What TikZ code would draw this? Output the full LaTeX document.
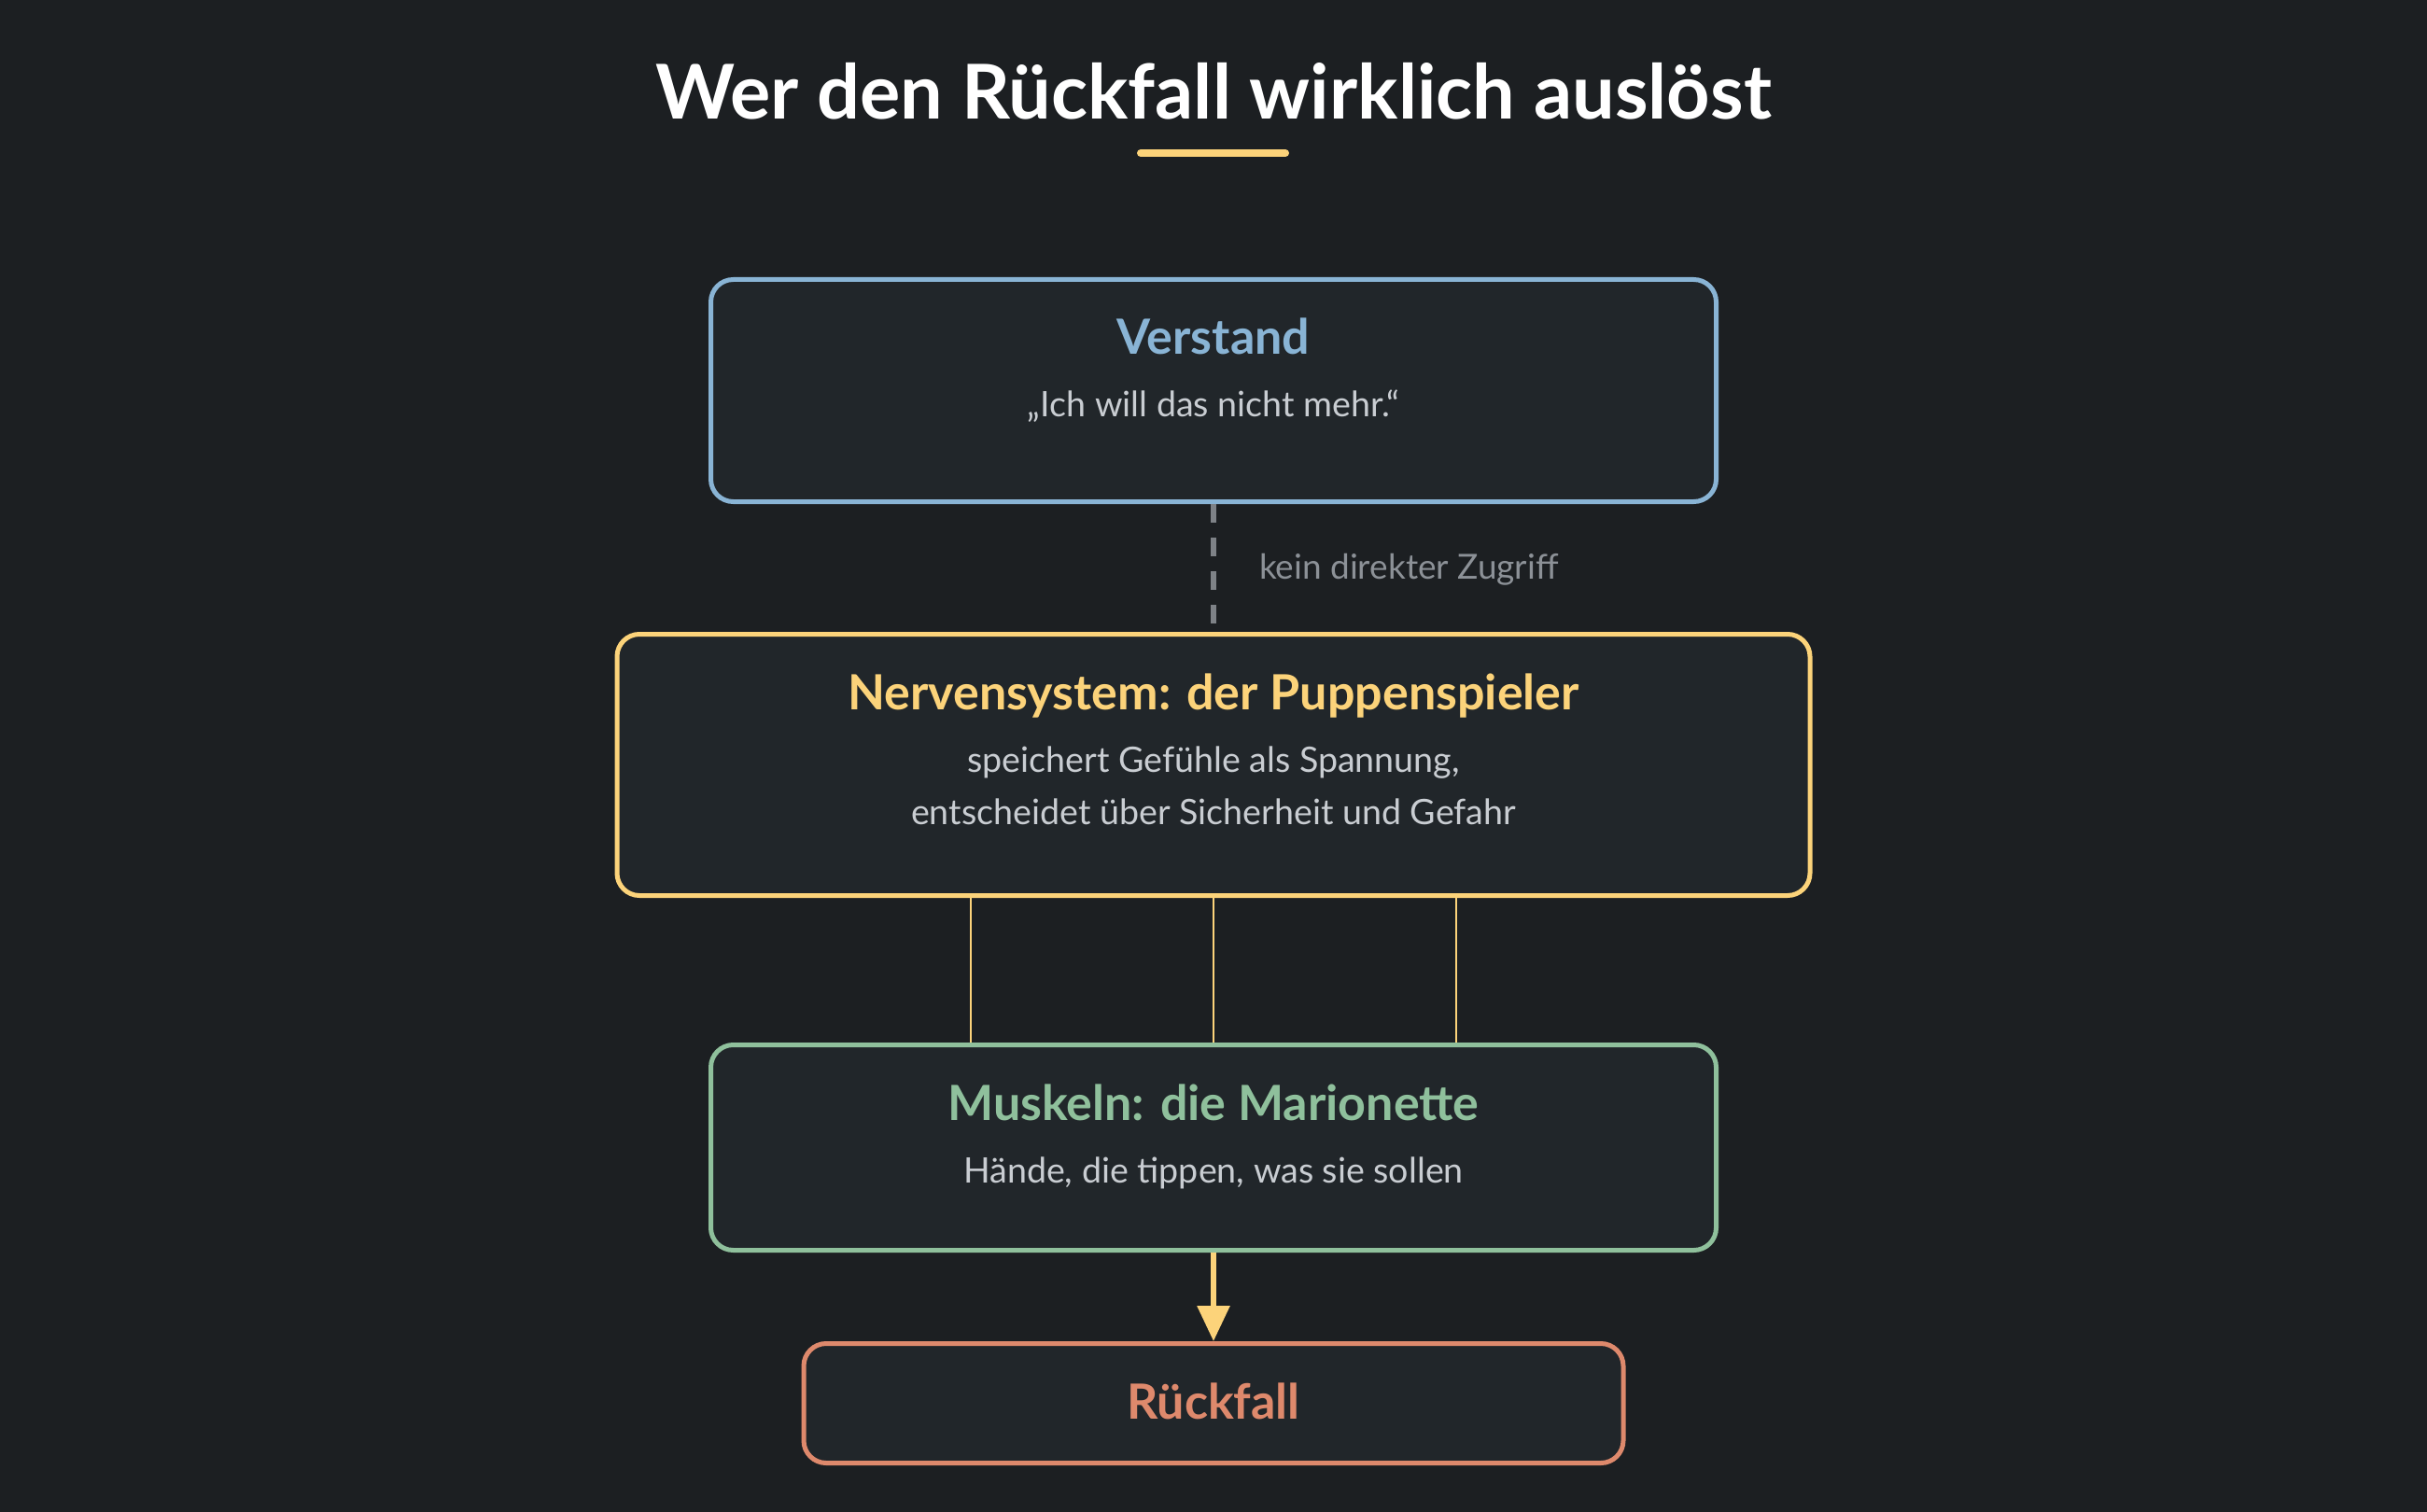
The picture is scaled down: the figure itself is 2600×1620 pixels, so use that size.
\documentclass[tikz,border=0pt]{standalone}
\usepackage{fontspec}
\setmainfont{Lato}
\usetikzlibrary{arrows.meta}

\definecolor{bgdark}{HTML}{1C1F22}
\definecolor{boxfill}{HTML}{21262A}
\definecolor{blueline}{HTML}{89B4D5}
\definecolor{yellowline}{HTML}{FCD37A}
\definecolor{greenline}{HTML}{8FC09C}
\definecolor{salmonline}{HTML}{DE896C}
\definecolor{subgray}{HTML}{C9CDD2}
\definecolor{dashgray}{HTML}{7E8287}
\definecolor{labelgray}{HTML}{8C9197}

\begin{document}
\begin{tikzpicture}[x=0.5pt,y=-0.5pt,
    card/.style={draw=#1,fill=boxfill,line width=2.5pt,rounded corners=12pt,inner sep=0pt},
    head/.style={anchor=base,text=#1,font=\bfseries\fontsize{26}{31}\selectfont},
    sub/.style={anchor=base,text=subgray,font=\fontsize{18.8}{22}\selectfont}]
      \fill[bgdark] (0,0) rectangle (2600,1620);
      \useasboundingbox (0,0) rectangle (2600,1620);

      % title
      \node[anchor=base,text=white,font=\bfseries\fontsize{40.5}{46}\selectfont] (title) at (1300,128) {Wer den Rückfall wirklich auslöst};
      \draw[yellowline,line width=4pt,line cap=round] (1222,164) -- (1377,164);

      % boxes
      \node[card=blueline,minimum width=538.5pt,minimum height=119pt] (verstand) at (1300,418.5) {};
      \node[card=yellowline,minimum width=639pt,minimum height=140pt] (nerven) at (1300,819.5) {};
      \node[card=greenline,minimum width=538.5pt,minimum height=110pt] (muskeln) at (1300,1229.5) {};
      \node[card=salmonline,minimum width=439pt,minimum height=64pt] (rueckfall) at (1300,1503.5) {};

      % texts
      \node[head=blueline] (verstandhead) at (1300,380) {Verstand};
      \node[sub] (verstandsub) at (1300,447) {„Ich will das nicht mehr.“};
      \node[head=yellowline] (nervenhead) at (1300,760) {Nervensystem: der Puppenspieler};
      \node[sub] (nervensub) at (1300,827) {speichert Gefühle als Spannung,};
      \node[sub] (nervensubb) at (1300,883) {entscheidet über Sicherheit und Gefahr};
      \node[head=greenline] (muskelnhead) at (1300,1200) {Muskeln: die Marionette};
      \node[sub] (muskelnsub) at (1300,1267) {Hände, die tippen, was sie sollen};
      \node[head=salmonline] (rueckfallhead) at (1300,1520) {Rückfall};

      % connectors
      \draw[dashgray,line width=3pt,dash pattern=on 10pt off 8pt] (verstand.south) -- (nerven.north);
      \node[anchor=base west,text=labelgray,font=\fontsize{18.5}{22}\selectfont] (zugriff) at (1342,620) {kein direkter Zugriff};
      \foreach \dx in {-130pt,0pt,130pt}
        \draw[yellowline,line width=1.2pt] ([xshift=\dx]nerven.south) -- ([xshift=\dx]muskeln.north);
      \draw[yellowline,line width=3pt,-{Triangle[width=17pt,length=19pt]}] (muskeln.south) -- (rueckfall.north);
    \end{tikzpicture}
\end{document}
